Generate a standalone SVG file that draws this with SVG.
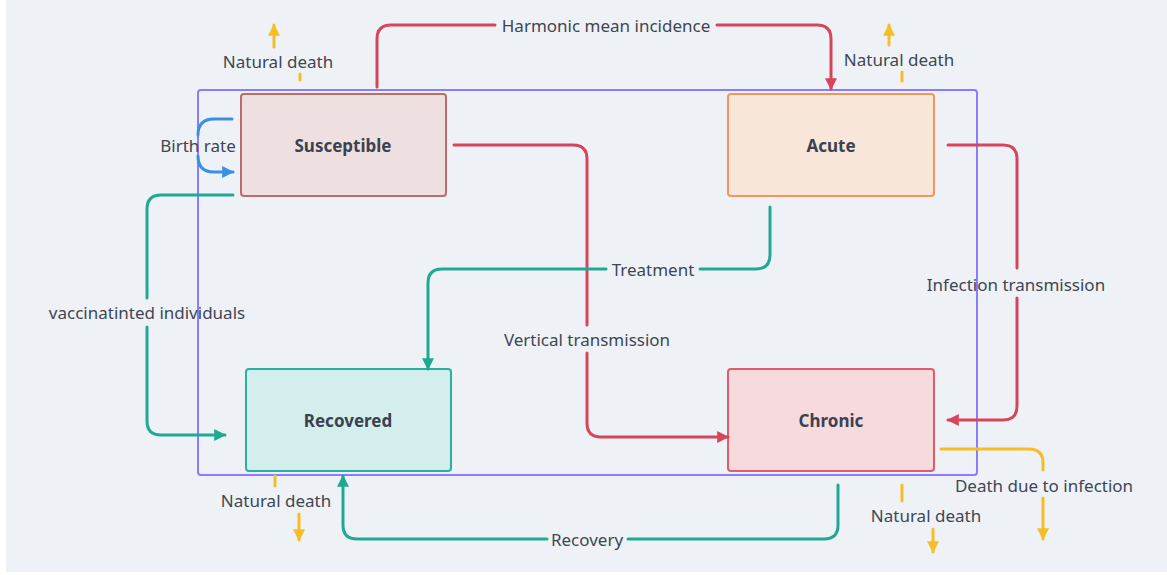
<svg xmlns="http://www.w3.org/2000/svg" width="1167" height="575" viewBox="0 0 1167 575">
<defs>
<style>
.lbl{font-family:"Noto Sans","DejaVu Sans",sans-serif;font-size:17px;fill:#3f4652;text-anchor:middle;dominant-baseline:central}
.nlbl{font-family:"Noto Sans","DejaVu Sans",sans-serif;font-size:17px;font-weight:bold;fill:#3a4250;text-anchor:middle;dominant-baseline:central}
.c{fill:none;stroke-width:3;stroke-linecap:round;stroke-linejoin:round}
.red{stroke:#d6455a}
.teal{stroke:#20a991}
.yel{stroke:#f6bd26}
.blue{stroke:#3b8fe0}
</style>
<marker id="aRed" viewBox="0 0 10 10" refX="9" refY="5" markerWidth="12" markerHeight="12" markerUnits="userSpaceOnUse" orient="auto"><path d="M0,0 L10,5 L0,10 z" fill="#d6455a"/></marker>
<marker id="aTeal" viewBox="0 0 10 10" refX="9" refY="5" markerWidth="12" markerHeight="12" markerUnits="userSpaceOnUse" orient="auto"><path d="M0,0 L10,5 L0,10 z" fill="#20a991"/></marker>
<marker id="aYel" viewBox="0 0 10 10" refX="9" refY="5" markerWidth="12" markerHeight="12" markerUnits="userSpaceOnUse" orient="auto"><path d="M0,0 L10,5 L0,10 z" fill="#f6bd26"/></marker>
<marker id="aBlue" viewBox="0 0 10 10" refX="9" refY="5" markerWidth="12" markerHeight="12" markerUnits="userSpaceOnUse" orient="auto"><path d="M0,0 L10,5 L0,10 z" fill="#3b8fe0"/></marker>
</defs>
<rect x="6" y="0" width="1161" height="572" fill="#eef2f6"/>
<rect id="frame" x="198" y="90" width="779" height="385" rx="3" fill="none" stroke="#8a7cff" stroke-width="2"/>

<g id="nodes">
<g id="susceptible"><rect x="241" y="94" width="205" height="102" rx="3" fill="#eee0e1" stroke="#b86d6d" stroke-width="2"/><text class="nlbl" x="343" y="145">Susceptible</text></g>
<g id="acute"><rect x="728" y="94" width="206" height="102" rx="3" fill="#f8e6da" stroke="#f0965a" stroke-width="2"/><text class="nlbl" x="831" y="145">Acute</text></g>
<g id="recovered"><rect x="246" y="369" width="205" height="102" rx="3" fill="#d3eeec" stroke="#2bb09d" stroke-width="2"/><text class="nlbl" x="348" y="420">Recovered</text></g>
<g id="chronic"><rect x="728" y="369" width="206" height="102" rx="3" fill="#f7dadd" stroke="#df5c6b" stroke-width="2"/><text class="nlbl" x="831" y="420">Chronic</text></g>
</g>

<g id="connectors">
<path class="c red" d="M377,87 V39 Q377,25 391,25 H495"/>
<path class="c red" d="M717,25 H817 Q831,25 831,39 V89" marker-end="url(#aRed)"/>
<path class="c red" d="M454,145 H573 Q587,145 587,159 V325"/>
<path class="c red" d="M587,353 V423 Q587,437 601,437 H728" marker-end="url(#aRed)"/>
<path class="c red" d="M948,145 H1003 Q1017,145 1017,159 V268"/>
<path class="c red" d="M1017,298 V406 Q1017,420 1003,420 H948" marker-end="url(#aRed)"/>
<path class="c teal" d="M770,207 V255 Q770,269 756,269 H700"/>
<path class="c teal" d="M606,269 H442 Q428,269 428,283 V369" marker-end="url(#aTeal)"/>
<path class="c teal" d="M233,195 H161 Q147,195 147,209 V298"/>
<path class="c teal" d="M147,327 V421 Q147,435 161,435 H225" marker-end="url(#aTeal)"/>
<path class="c teal" d="M838,485 V525 Q838,539 824,539 H628"/>
<path class="c teal" d="M547,539 H357 Q343,539 343,525 V476" marker-end="url(#aTeal)"/>
<path class="c blue" d="M232,119 H214 Q198,119 198,135"/>
<path class="c blue" d="M198,156 Q198,172 214,172 H233" marker-end="url(#aBlue)"/>
<path class="c yel" d="M300,74 V80"/>
<path class="c yel" d="M274,47 V25" marker-end="url(#aYel)"/>
<path class="c yel" d="M902,72 V81"/>
<path class="c yel" d="M889,45 V25" marker-end="url(#aYel)"/>
<path class="c yel" d="M275,476 V486"/>
<path class="c yel" d="M299,514 V540" marker-end="url(#aYel)"/>
<path class="c yel" d="M902,485 V501"/>
<path class="c yel" d="M933,529 V552" marker-end="url(#aYel)"/>
<path class="c yel" d="M941,449 H1029 Q1043,449 1043,463 V470"/>
<path class="c yel" d="M1043,498 V539" marker-end="url(#aYel)"/>
</g>

<g id="labels">
<text class="lbl" x="606" y="25">Harmonic mean incidence</text>
<text class="lbl" x="278" y="61">Natural death</text>
<text class="lbl" x="899" y="59">Natural death</text>
<text class="lbl" x="198" y="145">Birth rate</text>
<text class="lbl" x="147" y="312">vaccinatinted individuals</text>
<text class="lbl" x="653" y="269">Treatment</text>
<text class="lbl" x="587" y="339">Vertical transmission</text>
<text class="lbl" x="1016" y="284">Infection transmission</text>
<text class="lbl" x="276" y="500">Natural death</text>
<text class="lbl" x="926" y="515">Natural death</text>
<text class="lbl" x="587" y="539">Recovery</text>
<text class="lbl" x="1044" y="485">Death due to infection</text>
</g>
</svg>
